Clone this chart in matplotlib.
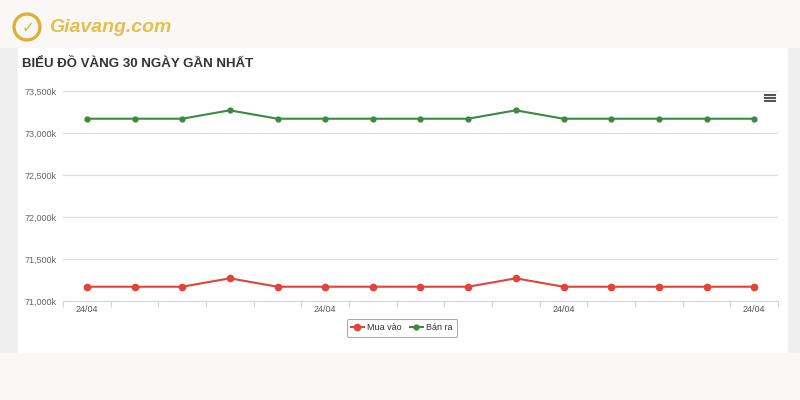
import matplotlib.pyplot as plt
from matplotlib.patches import Rectangle, Ellipse
from matplotlib.lines import Line2D

plt.rcParams['font.family'] = ['Liberation Sans', 'DejaVu Sans']

# data (thousand VND / luong)
dates = ['24/04'] * 15
mua_vao = [71170, 71170, 71170, 71270, 71170, 71170, 71170, 71170, 71170, 71270,
           71170, 71170, 71170, 71170, 71170]
ban_ra = [73170, 73170, 73170, 73270, 73170, 73170, 73170, 73170, 73170, 73270,
          73170, 73170, 73170, 73170, 73170]
y_ticks = [71000, 71500, 72000, 72500, 73000, 73500]
label_idx = [0, 5, 10, 14]

RED = '#e0443a'
GREEN = '#3b8a3f'

fig = plt.figure(figsize=(8, 4), dpi=100, facecolor='#f9f8f6')

# page background pieces (pixel coords -> figure fraction)
def px_rect(x0, y0, x1, y1, color):
    fig.patches.append(Rectangle((x0 / 800, 1 - y1 / 400), (x1 - x0) / 800, (y1 - y0) / 400,
                                 transform=fig.transFigure, color=color, zorder=-5))

px_rect(0, 48, 18, 352, '#efefef')
px_rect(18, 48, 788, 352, '#ffffff')
px_rect(788, 48, 800, 352, '#efefef')

# logo
fig.patches.append(Ellipse((27 / 800, 1 - 27 / 400), 26 / 800, 26 / 400, transform=fig.transFigure,
                           fill=False, ec='#d9b23a', lw=2.4))
fig.text(28 / 800, 1 - 28 / 400, '✓', color='#d9b23a', fontsize=11, fontweight='bold',
         ha='center', va='center', family='DejaVu Sans')
fig.text(49 / 800, 1 - 27 / 400, 'Giavang.com', color='#e3c04c', fontsize=14,
         fontweight='bold', style='italic', ha='left', va='center')

# title
fig.text(22 / 800, 1 - 64 / 400, 'BIỂU ĐỒ VÀNG 30 NGÀY GẦN NHẤT', color='#333333',
         fontsize=9.5, fontweight='bold', ha='left', va='center')

ax = fig.add_axes([63 / 800, 1 - 301 / 400, 715 / 800, 210 / 400])
ax.set_zorder(2)
ax.set_facecolor('none')
x = list(range(len(dates)))
ax.plot(x, mua_vao, color=RED, lw=1.5, marker='o', ms=4.5, label='Mua vào', zorder=3)
ax.plot(x, ban_ra, color=GREEN, lw=1.5, marker='o', ms=3.5, label='Bán ra', zorder=3)

ax.set_xlim(-0.5, 14.5)
ax.set_ylim(71000, 73500)
ax.set_yticks(y_ticks)
ax.set_yticklabels([f'{v:,}k' for v in y_ticks], fontsize=6.5, color='#666666')
ax.yaxis.grid(True, color='#dedede', lw=0.9)
ax.set_axisbelow(True)
ax.tick_params(axis='y', length=0, pad=5)

ax.set_xticks(label_idx)
ax.set_xticklabels([dates[i] for i in label_idx], fontsize=6.5, color='#555555')
ax.set_xticks([i + 0.5 for i in range(-1, 15)], minor=True)
ax.tick_params(axis='x', which='major', length=0, pad=3)
ax.tick_params(axis='x', which='minor', length=4, color='#ccd6eb', width=0.8)

for s in ['top', 'right', 'left']:
    ax.spines[s].set_visible(False)
ax.spines['bottom'].set_color('#ccd6eb')

# menu icon
for dy in (95, 98, 101):
    fig.lines.append(Line2D([765 / 800, 775 / 800], [1 - dy / 400] * 2,
                            transform=fig.transFigure, color='#555555', lw=1.5))

leg = fig.legend(loc='center', bbox_to_anchor=(402 / 800, 1 - 328 / 400), ncol=2,
                 fontsize=6.5, frameon=True, handlelength=1.4, columnspacing=0.9,
                 handletextpad=0.4, borderpad=0.5, labelcolor='#333333')
leg.get_frame().set_edgecolor('#999999')
leg.get_frame().set_linewidth(0.8)

fig.savefig('out.png', dpi=100, facecolor=fig.get_facecolor())
